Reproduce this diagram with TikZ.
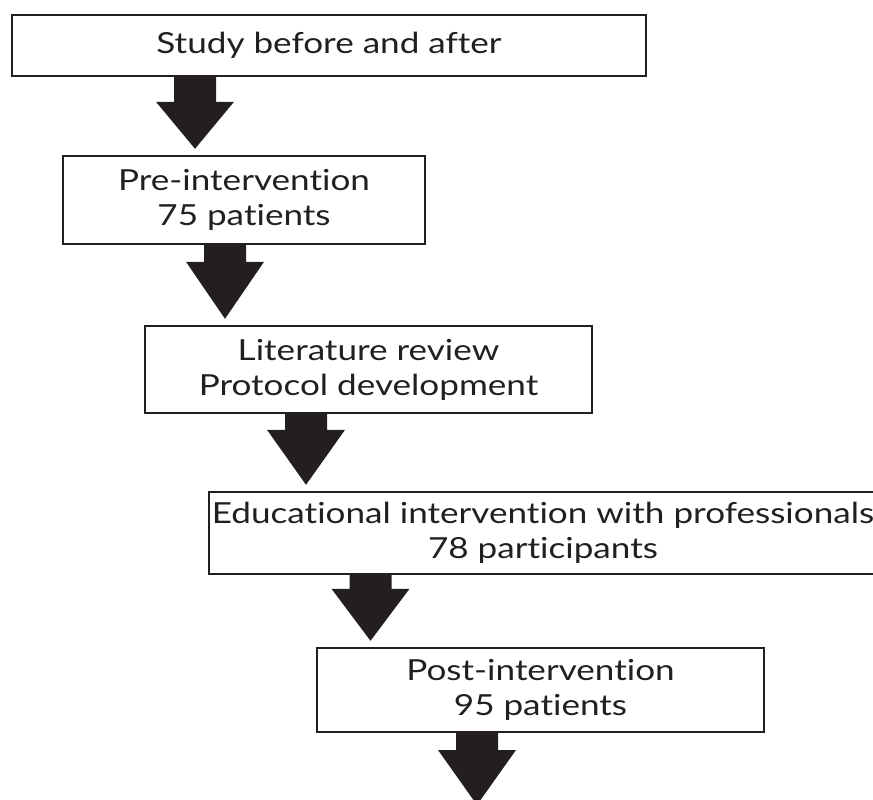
\documentclass[tikz,border=0pt]{standalone}
\usepackage{fontspec}
\setmainfont[FakeStretch=1.21, Ligatures=NoCommon]{Lato}
\usetikzlibrary{calc}
\definecolor{ink}{HTML}{231F20}
\tikzset{
  flowbox/.style={draw=ink, line width=2.4pt, fill=white, text=ink, inner sep=0pt,
    align=center, font=\fontsize{29}{35}\selectfont},
}
\newcommand\blkarrow[4]{%
  \fill[ink] let \p1=(#2), \p2=(#3) in
    (#1pt-21pt,\y1) -- (#1pt+21pt,\y1) -- (#1pt+21pt,\y2+6pt+#4pt) --
    (#1pt+39pt,\y2+6pt+#4pt) -- (#1pt,\y2+6pt) -- (#1pt-39pt,\y2+6pt+#4pt) --
    (#1pt-21pt,\y2+6pt+#4pt) -- cycle;}
\begin{document}
\begin{tikzpicture}[x=1pt,y=-1pt]
\useasboundingbox (0,0) rectangle (873,800);
\node[flowbox, minimum width=634pt, minimum height=61pt] (b1) at (329,45.5) {Study before and after};
\node[flowbox, minimum width=362pt, minimum height=88pt] (b2) at (244,200) {Pre-intervention\\75 patients};
\node[flowbox, minimum width=447pt, minimum height=87pt] (b3) at (368.5,369.5) {Literature review\\Protocol development};
\node[flowbox, minimum width=668pt, minimum height=82pt] (b4) at (543,533) {Educational intervention with professionals\\78 participants};
\node[flowbox, minimum width=447pt, minimum height=84pt] (b5) at (540.5,690) {Post-intervention\\95 patients};
\coordinate (e5) at (478,811);
\blkarrow{195}{b1.south}{b2.north}{47}
\blkarrow{225}{b2.south}{b3.north}{57}
\blkarrow{306}{b3.south}{b4.north}{55}
\blkarrow{370.5}{b4.south}{b5.north}{52}
\blkarrow{477}{b5.south}{e5}{55}
\end{tikzpicture}
\end{document}
